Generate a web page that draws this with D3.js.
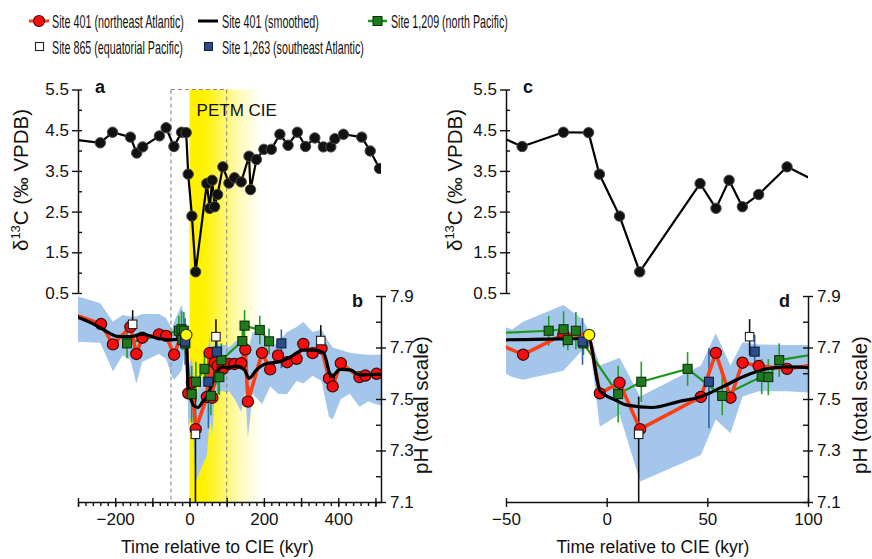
<!DOCTYPE html>
<html><head><meta charset="utf-8">
<script src="https://cdn.jsdelivr.net/npm/d3@7"></script>
<style>
body{margin:0;background:#fff}
svg{display:block}
text{font-family:"Liberation Sans",Arial,Helvetica,sans-serif;fill:#111}
</style>
</head><body>
<svg id="chart" width="872" height="559"></svg>
<script>
// ---------- data ----------
const d13cAge = [-305,-240,-207,-159,-142,-126,-81,-63,-42,-21.5,-9,-3.6,6.4,16.4,46.4,54.3,60.8,67.4,75.5,89.6,106,121,139,160,164,180,200,220,243,265,290,312,337,360,380,391,414,463,486,511];
const d13cVal = [4.26,4.19,4.45,4.33,3.94,4.09,4.36,4.56,4.10,4.45,4.44,3.42,2.39,1.02,3.19,2.58,3.27,2.62,2.92,3.60,3.20,3.33,3.23,3.86,3.04,3.78,4.03,4.03,4.40,4.13,4.45,4.10,4.31,4.09,4.09,4.29,4.40,4.33,3.99,3.56];

const site401Age = [-305,-238,-206,-159,-143,-127,-82,-63,-41.5,-21.5,-3.4,6.4,16.6,46.8,54.2,61.5,67.5,75.5,89.6,106,121,139,150,157,195,217,238,262.5,288,306,331,355,375,385,407,457,473,503];
const site401PH  = [7.825,7.791,7.712,7.78,7.675,7.738,7.751,7.745,7.672,7.751,7.522,7.563,7.383,7.508,7.679,7.505,7.641,7.628,7.617,7.636,7.636,7.639,7.692,7.49,7.679,7.615,7.669,7.643,7.656,7.714,7.678,7.697,7.58,7.549,7.639,7.585,7.591,7.598];

const initAge = [-8.7];
const initPH  = [7.749];

const smoothAge = [-305,-253,-217,-195,-160,-128,-92,-50,-9,-3.3,4.4,10.2,22.5,35.7,46.7,57,68.6,80,90,100,126,148,160,180,207,243,270,306,337,360,382,405,432,459,504,515];
const smoothPH  = [7.82,7.787,7.757,7.743,7.742,7.752,7.738,7.730,7.735,7.532,7.496,7.476,7.467,7.490,7.509,7.545,7.589,7.618,7.625,7.622,7.628,7.613,7.58,7.613,7.638,7.645,7.662,7.69,7.69,7.68,7.587,7.615,7.613,7.593,7.596,7.596];

const site1209Age = [-168,-28.8,-21.4,-19.3,-15.3,-11.5,5.7,17.2,40.2,57.4,77,80.3,85.7,142,148,189,214];
const site1209PH  = [7.716,7.765,7.771,7.729,7.765,7.716,7.519,7.567,7.617,7.512,7.587,7.585,7.651,7.725,7.785,7.768,7.724];
const site1209Err = [0.058,0.058,0.07,0.04,0.073,0.045,0.11,0.078,0.065,0.075,0.068,0.07,0.065,0.05,0.06,0.055,0.05];

const site865Age = [-153,15.9,71,353];
const site865PH  = [7.79,7.363,7.742,7.727];
const site865Lo  = [7.76,7.0,7.67,7.70];
const site865Hi  = [7.845,7.509,7.81,7.787];

const site1263Age = [-12,50.8,73.5,247];
const site1263PH  = [7.723,7.567,7.684,7.716];
const site1263Lo  = [7.633,7.386,7.625,7.62];
const site1263Hi  = [7.814,7.697,7.749,7.77];

const bandAge = [-305,-240,-206,-180,-159,-143,-127,-82,-63,-47,-41.5,-21.5,-12,-8.7,-3.4,6.4,16.6,46.8,54.2,61.5,67.5,75.5,89.6,100,106,121,139,150,157,170,195,217,238,262,288,306,331,355,375,385,407,431,457,480,503,515];
const bandLo  = [7.723,7.718,7.607,7.67,7.652,7.56,7.645,7.675,7.655,7.585,7.575,7.61,7.69,7.73,7.392,7.44,7.18,7.283,7.42,7.367,7.51,7.53,7.53,7.525,7.53,7.50,7.45,7.53,7.35,7.52,7.48,7.55,7.52,7.518,7.57,7.56,7.59,7.57,7.43,7.42,7.50,7.52,7.47,7.49,7.48,7.475];
const bandHi  = [7.90,7.872,7.80,7.826,7.82,7.82,7.83,7.83,7.815,7.77,7.80,7.865,7.81,7.76,7.63,7.66,7.51,7.63,7.755,7.63,7.72,7.712,7.71,7.71,7.70,7.72,7.74,7.74,7.69,7.76,7.75,7.70,7.72,7.76,7.78,7.80,7.76,7.77,7.72,7.70,7.69,7.68,7.675,7.672,7.672,7.672];

const d13cTicks  = [5.5,4.5,3.5,2.5,1.5,0.5];
const pHTicks    = [7.9,7.7,7.5,7.3,7.1];
const xTicksLeft = [-200,0,200,400];
const xTicksRight= [-50,0,50,100];
const petmBand   = [0,195];
const cieBox     = [-50,100];

// ---------- setup ----------
const svg = d3.select("#chart");
const defs = svg.append("defs");
const grad = defs.append("linearGradient").attr("id","petm").attr("x1",0).attr("x2",1).attr("y1",0).attr("y2",0);
[[0,"#fff000"],[0.2,"#fff200"],[0.45,"#fff660"],[0.7,"#fffbbd"],[1,"#ffffff"]]
  .forEach(s=>grad.append("stop").attr("offset",s[0]).attr("stop-color",s[1]));

const yD = d3.scaleLinear().domain([0.5,5.5]).range([293,89.5]);
const yP = d3.scaleLinear().domain([7.1,7.9]).range([502,296]);

const zip = (a,...cols)=>a.map((v,i)=>[v,...cols.map(c=>c[i])]);
const d13c = zip(d13cAge,d13cVal);
const red = zip(site401Age,site401PH);
const init = zip(initAge,initPH);
const redLine = red.concat(init).sort((a,b)=>a[0]-b[0]);
const smooth = zip(smoothAge,smoothPH);
const g1209 = zip(site1209Age,site1209PH,site1209Err).map(d=>[d[0],d[1],d[1]-d[2],d[1]+d[2]]);
const w865 = zip(site865Age,site865PH,site865Lo,site865Hi);
const n1263 = zip(site1263Age,site1263PH,site1263Lo,site1263Hi);
const band = zip(bandAge,bandLo,bandHi);

const FONT = '"Liberation Sans",Arial,Helvetica,sans-serif';

const panels = [
  {id:"L", domain:[-300,515], range:[78,381], major:d3.range(-300,501,100), minor:d3.range(-300,501,20), labels:xTicksLeft, letters:["a","b"], left:true},
  {id:"R", domain:[-50,100], range:[506,808], major:xTicksRight, minor:[], labels:xTicksRight, letters:["c","d"], left:false}
];

function styleAxis(g){
  g.attr("font-family",FONT).attr("font-size",17);
  g.selectAll("text").attr("fill","#111");
  g.selectAll("line").attr("stroke","#111").attr("stroke-width",1.4);
  g.selectAll(".domain").attr("stroke","#111").attr("stroke-width",1.5);
}

panels.forEach(p=>{
  const x = d3.scaleLinear().domain(p.domain).range(p.range);
  const inDom = d => d[0]>=p.domain[0] && d[0]<=p.domain[1];
  defs.append("clipPath").attr("id","clip"+p.id)
    .append("rect").attr("x",p.range[0]).attr("y",80).attr("width",p.range[1]-p.range[0]).attr("height",502-80);
  const g = svg.append("g").attr("clip-path",`url(#clip${p.id})`);

  if(p.left){
    g.append("rect").attr("x",x(petmBand[0])).attr("y",yD(5.5)).attr("width",x(petmBand[1])-x(petmBand[0]))
      .attr("height",yP(7.1)-yD(5.5)).attr("fill","url(#petm)");
  }
  // uncertainty band
  g.append("path").datum(band)
    .attr("d",d3.area().x(d=>x(d[0])).y0(d=>yP(d[1])).y1(d=>yP(d[2])))
    .attr("fill","#a4c6ea");
  if(p.left){
    const dash = g.append("g").attr("stroke","#8a8a8a").attr("stroke-width",1.1).attr("stroke-dasharray","4,3").attr("fill","none");
    cieBox.forEach(v=>dash.append("line").attr("x1",x(v)).attr("x2",x(v)).attr("y1",yD(5.5)).attr("y2",yP(7.1)));
    dash.append("line").attr("x1",x(cieBox[0])).attr("x2",x(cieBox[1])).attr("y1",yD(5.5)).attr("y2",yD(5.5));
    g.append("text").attr("x",x(19)).attr("y",116).attr("font-size",17).text("PETM CIE");
  }
  // error bars
  const bars = (data,color)=>g.append("g").selectAll("line").data(data).join("line")
    .attr("x1",d=>x(d[0])).attr("x2",d=>x(d[0])).attr("y1",d=>yP(d[2])).attr("y2",d=>yP(d[3]))
    .attr("stroke",color).attr("stroke-width",1.6);
  bars(g1209,"#22a022");
  bars(n1263,"#2f62a8");
  bars(w865,"#111");

  g.append("path").datum(g1209).attr("d",d3.line().x(d=>x(d[0])).y(d=>yP(d[1]))).attr("fill","none").attr("stroke","#1c961c").attr("stroke-width",2.2);
  g.append("path").datum(redLine).attr("d",d3.line().x(d=>x(d[0])).y(d=>yP(d[1]))).attr("fill","none").attr("stroke","#ff3d14").attr("stroke-width",3.6).attr("stroke-linejoin","round");
  g.append("g").selectAll("circle").data(red.filter(inDom)).join("circle")
    .attr("cx",d=>x(d[0])).attr("cy",d=>yP(d[1])).attr("r",5.6)
    .attr("fill","#f70d0d").attr("stroke","#3a0a0a").attr("stroke-width",1.2);
  g.append("path").datum(smooth).attr("d",d3.line().curve(d3.curveMonotoneX).x(d=>x(d[0])).y(d=>yP(d[1])))
    .attr("fill","none").attr("stroke","#000").attr("stroke-width",3.2);

  const squares = (data,fill,stroke,s)=>g.append("g").selectAll("rect").data(data.filter(inDom)).join("rect")
    .attr("x",d=>x(d[0])-s/2).attr("y",d=>yP(d[1])-s/2).attr("width",s).attr("height",s)
    .attr("fill",fill).attr("stroke",stroke).attr("stroke-width",1.1);
  squares(g1209,"#1f7a1f","#0b300b",9);
  squares(n1263,"#2c4d8a","#0e1d3d",9);
  squares(w865,"#ffffff","#222",8.5);

  g.append("g").selectAll("circle").data(init).join("circle")
    .attr("cx",d=>x(d[0])).attr("cy",d=>yP(d[1])).attr("r",5.6)
    .attr("fill","#ffff00").attr("stroke","#333").attr("stroke-width",1.2);

  // d13C
  g.append("path").datum(d13c).attr("d",d3.line().x(d=>x(d[0])).y(d=>yD(d[1])))
    .attr("fill","none").attr("stroke","#000").attr("stroke-width",2.2).attr("stroke-linejoin","round");
  g.append("g").selectAll("circle").data(d13c.filter(inDom)).join("circle")
    .attr("cx",d=>x(d[0])).attr("cy",d=>yD(d[1])).attr("r",5.2)
    .attr("fill","#111").attr("stroke","#4a4a4a").attr("stroke-width",1);

  // ---- axes ----
  const x0 = p.range[0], x1 = p.range[1];
  const aL = svg.append("g").attr("transform",`translate(${x0},0)`)
    .call(d3.axisLeft(yD).tickValues(d13cTicks).tickSize(6).tickSizeOuter(0).tickPadding(3).tickFormat(d3.format(".1f")));
  styleAxis(aL);
  const aLi = svg.append("g").attr("transform",`translate(${x0},0)`)
    .call(d3.axisRight(yD).tickValues(d3.range(0.5,5.51,0.5)).tickSize(4).tickSizeOuter(0).tickFormat(""));
  aLi.select(".domain").remove(); styleAxis(aLi);

  const aR = svg.append("g").attr("transform",`translate(${x1},0)`)
    .call(d3.axisRight(yP).tickValues(pHTicks).tickSize(5).tickSizeOuter(0).tickPadding(4).tickFormat(d3.format(".1f")));
  styleAxis(aR);
  const aRi = svg.append("g").attr("transform",`translate(${x1},0)`)
    .call(d3.axisLeft(yP).tickValues(d3.range(7.1,7.91,0.1)).tickSize(5).tickSizeOuter(0).tickFormat(""));
  aRi.select(".domain").remove(); styleAxis(aRi);

  const aB = svg.append("g").attr("transform",`translate(0,${yP(7.1)})`)
    .call(d3.axisBottom(x).tickValues(p.major).tickSize(5).tickSizeOuter(0).tickPadding(6)
      .tickFormat(d=>p.labels.includes(d)?d3.format("")(d):""));
  styleAxis(aB);
  const aBi = svg.append("g").attr("transform",`translate(0,${yP(7.1)})`)
    .call(d3.axisTop(x).tickValues(p.major).tickSize(4).tickSizeOuter(0).tickFormat(""));
  aBi.select(".domain").remove(); styleAxis(aBi);
  if(p.minor.length){
    const aBm = svg.append("g").attr("transform",`translate(0,${yP(7.1)})`)
      .call(d3.axisBottom(x).tickValues(p.minor).tickSize(4).tickSizeOuter(0).tickFormat(""));
    aBm.select(".domain").remove(); styleAxis(aBm);
  }

  // panel letters
  svg.append("text").attr("x",x0+17).attr("y",93).attr("font-size",18).attr("font-weight","bold").text(p.letters[0]);
  svg.append("text").attr("x",x1-29).attr("y",307).attr("font-size",18).attr("font-weight","bold").text(p.letters[1]);

  // titles
  const cx = p.left ? 217.5 : 653;
  svg.append("text").attr("x",cx).attr("y",553).attr("text-anchor","middle").attr("font-size",17.5).text("Time relative to CIE (kyr)");
  const dx = p.left ? 28 : 462;
  const t = svg.append("text").attr("transform",`translate(${dx},180) rotate(-90)`).attr("text-anchor","middle").attr("font-size",20.5);
  t.append("tspan").text("δ");
  t.append("tspan").attr("font-size",13).attr("dy",-8).text("13");
  t.append("tspan").attr("dy",8).text("C (‰ VPDB)");
  const px = p.left ? 428 : 867;
  svg.append("text").attr("transform",`translate(${px},405) rotate(-90)`).attr("text-anchor","middle").attr("font-size",20.5).text("pH (total scale)");
});

// ---------- legend ----------
const lg = svg.append("g");
const legText = (x,y,str,len)=>{
  const t = lg.append("text").attr("font-size",17.5).text(str);
  const w = t.node().getComputedTextLength();
  t.attr("transform",`translate(${x},${y}) scale(${len/w},1)`);
};
lg.append("line").attr("x1",29).attr("x2",49).attr("y1",21).attr("y2",21).attr("stroke","#ff3d14").attr("stroke-width",3);
lg.append("circle").attr("cx",39).attr("cy",21).attr("r",5.5).attr("fill","#f70d0d").attr("stroke","#3a0a0a").attr("stroke-width",1.2);
legText(52,27.5,"Site 401 (northeast Atlantic)",132);
lg.append("line").attr("x1",198).attr("x2",218).attr("y1",21).attr("y2",21).attr("stroke","#000").attr("stroke-width",3);
legText(222,27.5,"Site 401 (smoothed)",97);
lg.append("line").attr("x1",368).attr("x2",387).attr("y1",21).attr("y2",21).attr("stroke","#1c961c").attr("stroke-width",2.5);
lg.append("rect").attr("x",373).attr("y",16.5).attr("width",9).attr("height",9).attr("fill","#1f7a1f").attr("stroke","#0b300b");
legText(391,27.5,"Site 1,209 (north Pacific)",117);
lg.append("rect").attr("x",35.5).attr("y",42.5).attr("width",8).attr("height",8).attr("fill","#fff").attr("stroke","#222").attr("stroke-width",1.1);
legText(52,54,"Site 865 (equatorial Pacific)",131);
lg.append("rect").attr("x",204.5).attr("y",42.5).attr("width",8).attr("height",8).attr("fill","#2c4d8a").attr("stroke","#0e1d3d");
legText(222,54,"Site 1,263 (southeast Atlantic)",142);
</script>
</body></html>
